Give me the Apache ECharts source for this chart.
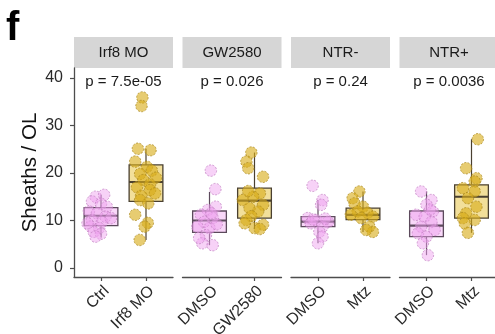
<!DOCTYPE html>
<html><head><meta charset="utf-8">
<script src="https://cdn.jsdelivr.net/npm/echarts@6/dist/echarts.min.js"></script>
<style>html,body{margin:0;padding:0;background:#fff}#c{width:495px;height:334px}</style>
</head><body><div id="c"></div>
<script>
// ---- data ----
const panels = ['Irf8 MO', 'GW2580', 'NTR-', 'NTR+'];
const pValues = ['p = 7.5e-05', 'p = 0.026', 'p = 0.24', 'p = 0.0036'];
const groupLabels = [['Ctrl', 'Irf8 MO'], ['DMSO', 'GW2580'], ['DMSO', 'Mtz'], ['DMSO', 'Mtz']];
const yTicks = [0, 10, 20, 30, 40];
const yTitle = 'Sheaths / OL';
const panelLetter = 'f';

// box stats: [lower whisker, Q1, median, Q3, upper whisker]
const boxIrf8Ctrl = [6.6, 8.9, 11.0, 12.7, 15.4];
const boxIrf8MO = [5.9, 14.0, 18.1, 21.7, 25.1];
const boxGwDmso = [4.8, 7.5, 10.0, 12.0, 16.0];
const boxGw2580 = [8.2, 10.5, 14.2, 16.8, 24.3];
const boxNtrMinusDmso = [5.2, 8.7, 9.75, 10.8, 14.3];
const boxNtrMinusMtz = [7.6, 10.2, 11.2, 12.6, 16.1];
const boxNtrPlusDmso = [2.7, 6.6, 8.9, 12.0, 16.1];
const boxNtrPlusMtz = [7.4, 10.5, 15.0, 17.5, 27.1];

// points: values and jitter offsets (category units)
const ptsIrf8Ctrl = [15.0, 15.4, 14.0, 13.5, 12.9, 11.9, 11.5, 10.8, 10.1, 9.7, 10.5, 8.7, 8.4, 7.6, 7.2, 6.6, 9.4];
const jitIrf8Ctrl = [-0.12, 0.07, -0.2, 0, 0.13, -0.27, -0.09, 0.1, -0.2, 0.02, 0.22, -0.23, -0.04, -0.16, 0, -0.12, -0.3];
const ptsIrf8MO = [35.9, 34.1, 25.1, 24.8, 22.4, 21.3, 20.5, 19.8, 19.0, 18.5, 17.6, 17.0, 16.4, 15.7, 15.2, 14.3, 13.6, 11.2, 9.5, 8.7, 5.9];
const jitIrf8MO = [-0.08, -0.1, -0.18, 0.1, -0.24, 0.02, 0.13, -0.13, 0.22, -0.06, 0.09, -0.2, 0.09, 0.2, -0.11, -0.13, 0.05, -0.24, 0.04, -0.03, -0.14];
const ptsGwDmso = [20.5, 16.6, 12.9, 12.2, 11.2, 10.5, 9.7, 8.7, 8.4, 6.9, 5.2, 4.8, 6.3, 9.2, 11.5];
const jitGwDmso = [0.03, 0.13, 0.14, -0.04, -0.19, 0.07, -0.12, -0.27, 0, -0.08, -0.16, 0.07, -0.23, 0.16, 0.04];
const ptsGw2580 = [24.3, 22.4, 21.0, 19.2, 15.7, 15.0, 14.3, 13.3, 12.6, 11.9, 10.9, 10.1, 9.1, 8.4, 9.4, 8.2, 16.2];
const jitGw2580 = [-0.07, -0.18, -0.14, 0.19, 0.12, -0.03, -0.26, 0.19, -0.11, 0.08, -0.07, -0.18, 0.19, 0, -0.22, 0.12, -0.14];
const ptsNtrMinusDmso = [17.3, 14.3, 13.3, 10.5, 10.1, 9.7, 9.4, 8.7, 7.6, 6.6, 5.2, 10.2, 10.4];
const jitNtrMinusDmso = [-0.12, 0.1, 0.07, -0.23, -0.04, 0.22, -0.16, 0.1, 0.03, 0.1, 0, -0.11, 0.16];
const ptsNtrMinusMtz = [16.1, 14.7, 13.6, 12.9, 11.9, 11.6, 11.2, 10.8, 10.5, 8.7, 7.6, 8.0];
const jitNtrMinusMtz = [-0.08, -0.23, -0.19, 0, -0.12, 0.1, -0.27, 0.22, -0.04, 0.14, 0.22, 0.07];
const ptsNtrPlusDmso = [16.1, 14.3, 13.3, 11.9, 11.2, 10.8, 9.7, 8.7, 8.0, 7.3, 6.6, 5.2, 2.7, 12.3];
const jitNtrPlusDmso = [-0.12, 0.11, 0, 0.14, -0.23, -0.04, 0.11, -0.12, 0.18, -0.19, 0, -0.08, 0.03, 0.08];
const ptsNtrPlusMtz = [27.1, 21.0, 18.9, 18.2, 16.8, 16.1, 14.7, 12.9, 11.5, 10.5, 10.1, 9.4, 7.4];
const jitNtrPlusMtz = [0.14, -0.12, 0.11, 0.07, -0.19, 0.07, -0.08, 0.11, -0.12, -0.19, 0.07, -0.15, -0.08];

const boxes = [[boxIrf8Ctrl, boxIrf8MO], [boxGwDmso, boxGw2580], [boxNtrMinusDmso, boxNtrMinusMtz], [boxNtrPlusDmso, boxNtrPlusMtz]];
const pts = [[ptsIrf8Ctrl, ptsIrf8MO], [ptsGwDmso, ptsGw2580], [ptsNtrMinusDmso, ptsNtrMinusMtz], [ptsNtrPlusDmso, ptsNtrPlusMtz]];
const jits = [[jitIrf8Ctrl, jitIrf8MO], [jitGwDmso, jitGw2580], [jitNtrMinusDmso, jitNtrMinusMtz], [jitNtrPlusDmso, jitNtrPlusMtz]];

// ---- style / layout ----
const FONT = 'Liberation Sans, Arial, sans-serif';
const grpStyle = [
  {pt: 'rgba(238,160,238,0.6)', ptBorder: '#c07fc0', box: 'rgba(247,208,247,0.85)', line: '#5c4a5c'},
  {pt: 'rgba(216,174,28,0.78)', ptBorder: '#a9861a', box: 'rgba(238,212,120,0.75)', line: '#4a4030'}
];
const GRID_TOP = 68, GRID_H = 209, GRID_W = 99;
const panelLeft = i => 74 + i * 108.5;

const chart = echarts.init(document.getElementById('c'), null, {renderer: 'canvas'});
const grids = [], xAxes = [], yAxes = [], series = [], graphics = [];

panels.forEach((name, i) => {
  const left = panelLeft(i);
  grids.push({left: left, top: GRID_TOP, width: GRID_W, height: GRID_H, containLabel: false, outerBoundsMode: 'none'});
  xAxes.push({
    type: 'value', gridIndex: i, min: 0.4, max: 2.6,
    splitLine: {show: false},
    axisLine: {show: true, onZero: false, lineStyle: {color: '#4d4d4d', width: 1.3}},
    axisTick: {show: true, customValues: [1, 2], length: 4, lineStyle: {color: '#4d4d4d', width: 1.2}},
    axisLabel: {show: true, customValues: [1, 2], rotate: 45, margin: 6, verticalAlign: 'top', fontSize: 16, color: '#2a2a2a', fontFamily: FONT,
      formatter: v => groupLabels[i][Math.round(v) - 1]}
  });
  yAxes.push({
    type: 'value', gridIndex: i, min: -1.9, max: 42.1,
    splitLine: {show: false},
    axisLine: {show: i === 0, lineStyle: {color: '#4d4d4d', width: 1.3}},
    axisTick: {show: i === 0, customValues: yTicks, length: 4, lineStyle: {color: '#4d4d4d', width: 1.2}},
    axisLabel: {show: i === 0, customValues: yTicks, margin: 11, fontSize: 16, color: '#2a2a2a', fontFamily: FONT},
    name: i === 0 ? yTitle : '', nameLocation: 'middle', nameGap: 32,
    nameTextStyle: {fontSize: 20.5, color: '#111', fontFamily: FONT}
  });
  // boxplots
  [0, 1].forEach(g => {
    const b = boxes[i][g];
    const st = grpStyle[g];
    series.push({
      type: 'custom', xAxisIndex: i, yAxisIndex: i, z: 2,
      data: [[g + 1].concat(b)],
      renderItem: (params, api) => {
        const x = api.value(0);
        const hw = 0.375;
        const pLo = api.coord([x, api.value(1)]);
        const pQ1 = api.coord([x - hw, api.value(2)]);
        const pMed = api.coord([x - hw, api.value(3)]);
        const pQ3 = api.coord([x + hw, api.value(4)]);
        const pHi = api.coord([x, api.value(5)]);
        const medR = api.coord([x + hw, api.value(3)]);
        return {type: 'group', children: [
          {type: 'line', shape: {x1: pLo[0], y1: pLo[1], x2: pLo[0], y2: pQ1[1]}, style: {stroke: st.line, lineWidth: 1.2}},
          {type: 'line', shape: {x1: pHi[0], y1: pHi[1], x2: pHi[0], y2: pQ3[1]}, style: {stroke: st.line, lineWidth: 1.2}},
          {type: 'rect', shape: {x: pQ1[0], y: pQ3[1], width: pQ3[0] - pQ1[0], height: pQ1[1] - pQ3[1]},
            style: {fill: st.box, stroke: st.line, lineWidth: 1.3}},
          {type: 'line', shape: {x1: pMed[0], y1: pMed[1], x2: medR[0], y2: medR[1]}, style: {stroke: st.line, lineWidth: 2.2}}
        ]};
      }
    });
    series.push({
      type: 'scatter', xAxisIndex: i, yAxisIndex: i, z: 3,
      symbol: 'circle', symbolSize: 11.5,
      itemStyle: {color: st.pt, borderColor: st.ptBorder, borderWidth: 0.9, borderType: [2, 1.5]},
      data: pts[i][g].map((v, k) => [g + 1 + jits[i][g][k], v])
    });
  });
  // strip
  graphics.push({type: 'rect', left: left, top: 37, shape: {width: GRID_W, height: 31}, style: {fill: '#d6d6d6'}, silent: true});
  graphics.push({type: 'text', x: left + GRID_W / 2, y: 53, style: {text: name, fill: '#1a1a1a', font: '15px ' + FONT, textAlign: 'center', textVerticalAlign: 'middle'}});
  graphics.push({type: 'text', x: left + GRID_W / 2, y: 82, style: {text: pValues[i], fill: '#1a1a1a', font: '15px ' + FONT, textAlign: 'center', textVerticalAlign: 'middle'}});
});
graphics.push({type: 'text', x: 6, y: 49, style: {text: panelLetter, fill: '#000', font: 'bold 40px ' + FONT, textAlign: 'left', textVerticalAlign: 'bottom'}});

chart.setOption({
  animation: false,
  backgroundColor: '#fff',
  grid: grids, xAxis: xAxes, yAxis: yAxes, series: series, graphic: graphics
});
</script></body></html>
